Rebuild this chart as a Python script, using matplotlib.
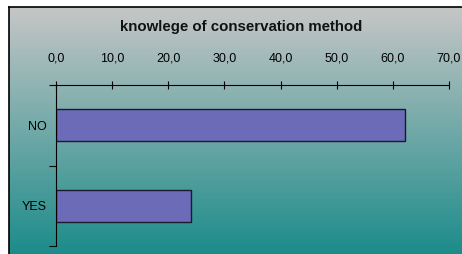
import numpy as np
import matplotlib
matplotlib.use("Agg")
import matplotlib.pyplot as plt
from matplotlib.ticker import FuncFormatter, FixedLocator

categories = ["YES", "NO"]
values = [24.1, 62.2]
title = "knowlege of conservation method"

plt.rcParams['font.family'] = ['Liberation Sans', 'DejaVu Sans']

W, H = 462, 254
fig = plt.figure(figsize=(W/100, H/100), dpi=100)
fig.patch.set_facecolor('white')

# background gradient panel
bg = fig.add_axes([9/W, 0, 1 - 9/W, 1 - 7/H])
top = np.array([198, 198, 198]) / 255
bot = np.array([28, 140, 138]) / 255
t = np.linspace(0, 1, 256)[:, None]
grad = (top[None, :] * (1 - t) + bot[None, :] * t)[:, None, :]
bg.imshow(grad, aspect='auto', extent=[0, 1, 0, 1], origin='upper')
bg.set_xticks([]); bg.set_yticks([])
for s in ['right', 'bottom']:
    bg.spines[s].set_visible(False)
for s in ['left', 'top']:
    bg.spines[s].set_linewidth(1.2)
    bg.spines[s].set_color('black')
bg.set_zorder(0)

fig.text(241/W, 1 - 27/H, title, ha='center', va='center',
         fontsize=10.8, fontweight='bold', color='#111111')

ax = fig.add_axes([56/W, 1 - 246/H, (449 - 56)/W, (246 - 85)/H])
ax.set_zorder(1)
ax.patch.set_alpha(0)
y = np.arange(len(categories))
ax.barh(y, values, height=0.4, color='#6b6bb8', edgecolor='#1a1a2e', linewidth=1.0)
ax.set_xlim(0, 70)
ax.set_ylim(-0.5, 1.5)
ax.xaxis.tick_top()
ax.set_xticks(np.arange(0, 71, 10))
ax.xaxis.set_major_formatter(FuncFormatter(lambda v, p: f"{v:.1f}".replace('.', ',')))
ax.tick_params(axis='x', which='major', direction='inout', length=6, width=0.8,
               labelsize=9, pad=12, colors='black')
ax.set_yticks(y)
ax.set_yticklabels(categories)
ax.tick_params(axis='y', which='major', length=0, labelsize=9, pad=7)
ax.yaxis.set_minor_locator(FixedLocator([-0.5, 0.5, 1.5]))
ax.tick_params(axis='y', which='minor', direction='out', length=5, width=0.8)
for s in ['right', 'bottom']:
    ax.spines[s].set_visible(False)
for s in ['left', 'top']:
    ax.spines[s].set_linewidth(0.8)

fig.savefig('out.png', dpi=100)
